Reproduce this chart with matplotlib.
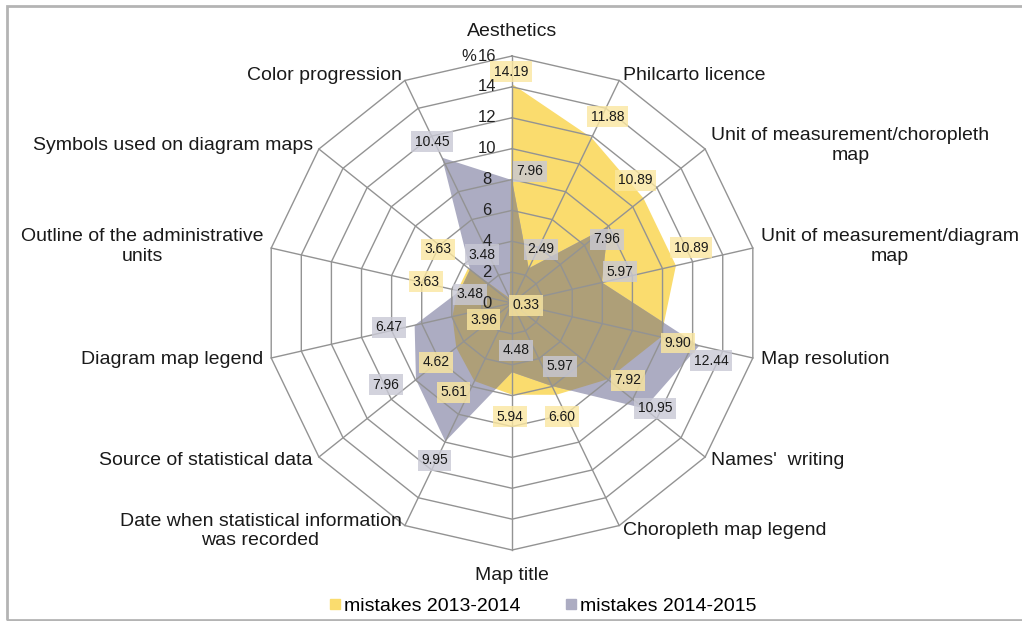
import numpy as np
import matplotlib
matplotlib.use("Agg")
import matplotlib.pyplot as plt
from matplotlib.lines import Line2D
from matplotlib.patches import Rectangle

plt.rcParams['font.family'] = ['Liberation Sans', 'DejaVu Sans']

categories = [
    "Aesthetics", "Philcarto licence", "Unit of measurement/choropleth\nmap",
    "Unit of measurement/diagram\nmap", "Map resolution", "Names'  writing",
    "Choropleth map legend", "Map title",
    "Date when statistical information\nwas recorded", "Source of statistical data",
    "Diagram map legend", "Outline of the administrative\nunits",
    "Symbols used on diagram maps", "Color progression",
]
mistakes_2013 = [14.19, 11.88, 10.89, 10.89, 9.90, 7.92, 6.60, 5.94, 5.61, 4.62, 3.96, 3.63, 3.63, 0.33]
mistakes_2014 = [7.96, 2.49, 7.96, 5.97, 12.44, 10.95, 5.97, 4.48, 9.95, 7.96, 6.47, 3.48, 3.48, 10.45]
series_names = ["mistakes 2013-2014", "mistakes 2014-2015"]
r_ticks = [0, 2, 4, 6, 8, 10, 12, 14, 16]

# label offsets in pixels (x right, y down) from each data point
off_2013 = [(-1, -12), (16, -21), (-8, -18), (15, -18), (17, 6), (20, 1), (6, 22),
            (-2, 22), (-21, 11), (-20, 15), (31, 3), (-31, -9), (-30, -19), (16, 7)]
off_2014 = [(18, -9), (12, -19), (-1, 13), (18, -11), (12, 15), (11, 0), (8, -20),
            (4, -22), (-11, 19), (-30, 5), (-26, 2), (10, 3), (12, -15), (-10, -16)]

yellow = "#fadc6e"
gray = "#acacc2"
olive = "#ae9f78"
grid_c = "#939393"

n = len(categories)
theta = np.arange(n) * 2 * np.pi / n
theta_c = np.append(theta, theta[0])

fig = plt.figure(figsize=(10.22, 6.21), dpi=100)
ax = fig.add_axes([0.2593, 0.1143, 0.4834, 0.7955], projection="polar")
ax.set_theta_zero_location("N")
ax.set_theta_direction(-1)
ax.set_ylim(0, 16)
ax.grid(False)
ax.set_xticks([])
ax.set_yticks([])
ax.spines["polar"].set_visible(False)
ax.patch.set_visible(False)

y13 = np.append(mistakes_2013, mistakes_2013[0])
y14 = np.append(mistakes_2014, mistakes_2014[0])
ax.fill(theta_c, y13, color=yellow, lw=0, zorder=1)
gp = ax.fill(theta_c, y14, color=gray, lw=0, zorder=1.1)[0]
ov = ax.fill(theta_c, y13, color=olive, lw=0, zorder=1.2)[0]
ov.set_clip_path(gp)

# polygon grid
for r in r_ticks[1:]:
    ax.plot(theta_c, [r] * (n + 1), color=grid_c, lw=1, zorder=2, clip_on=False)
for t in theta:
    ax.plot([t, t], [0, 16], color=grid_c, lw=1, zorder=2, clip_on=False)

# radial tick labels
for r in r_ticks:
    ax.annotate(str(r), (0, r), xytext=(-25, 0), textcoords="offset pixels",
                ha="center", va="center", fontsize=12, color="#222222", zorder=6)
ax.annotate("%", (0, 16), xytext=(-43, 0), textcoords="offset pixels",
            ha="center", va="center", fontsize=12, color="#222222", zorder=6)

# category labels
for t, lab in zip(theta, categories):
    s, c = np.sin(t), np.cos(t)
    ha = "left" if s > 0.1 else ("right" if s < -0.1 else "center")
    if abs(s) < 0.1:
        dx, dy = 0, 25 * c
    else:
        dx, dy = 8 * s, 6 * c
    ax.annotate(lab, (t, 16), xytext=(dx, dy), textcoords="offset pixels",
                ha=ha, va="center", fontsize=14, color="#1a1a1a", multialignment="center",
                annotation_clip=False)

# value labels
for vals, offs, bg in [(mistakes_2013, off_2013, "#fbe7a0"), (mistakes_2014, off_2014, "#c9c9d5")]:
    for t, v, (dx, dy) in zip(theta, vals, offs):
        ax.annotate(f"{v:.2f}", (t, v), xytext=(dx, -dy), textcoords="offset pixels",
                    ha="center", va="center", fontsize=10, color="#1a1a1a", zorder=5,
                    bbox=dict(boxstyle="square,pad=0.25", fc=bg, ec="none", alpha=0.8))

handles = [Line2D([], [], ls="none", marker="s", ms=7, color=yellow),
           Line2D([], [], ls="none", marker="s", ms=7, color=gray)]
fig.legend(handles, series_names, loc="center", bbox_to_anchor=(0.53, 0.024), ncol=2,
           frameon=False, fontsize=14, handletextpad=0.05, columnspacing=2.2,
           handlelength=0.8)

fig.patches.append(Rectangle((7 / 1022, 0.002), 1.1, 1 - 7 / 621, transform=fig.transFigure,
                             fill=False, ec="#b4b4b4", lw=2))

fig.savefig("out.png", dpi=100)
